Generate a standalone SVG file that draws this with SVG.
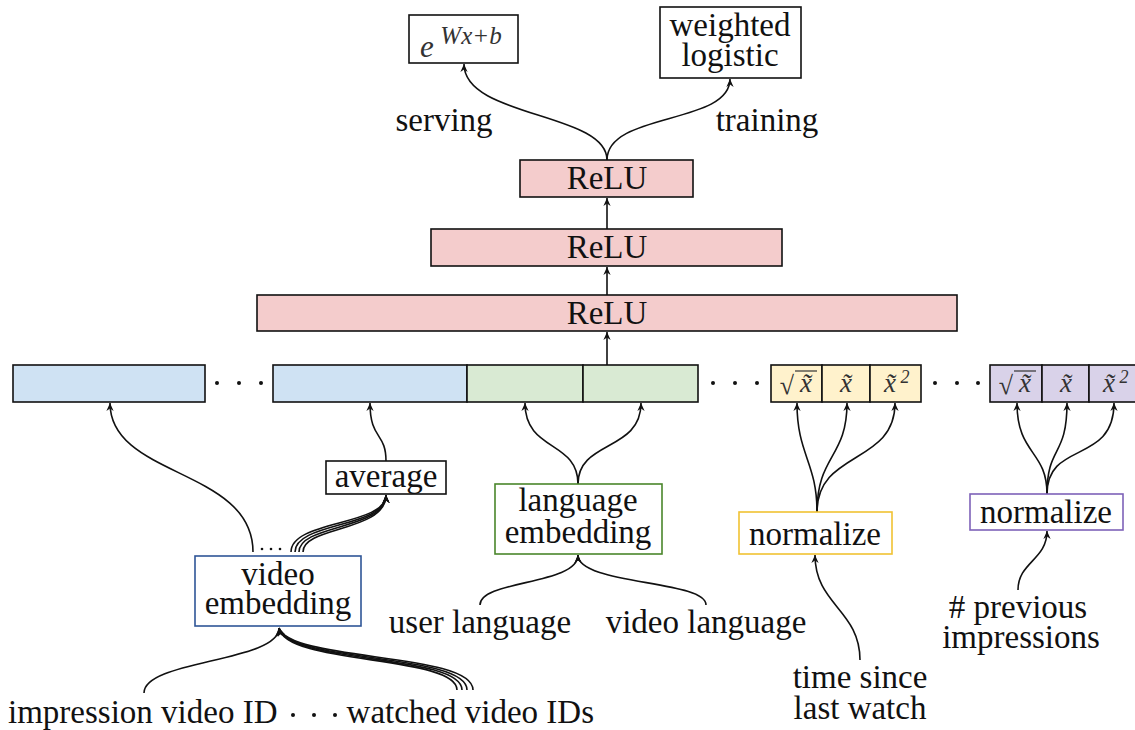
<svg xmlns="http://www.w3.org/2000/svg" width="1135" height="730" viewBox="0 0 1135 730">
<defs>
<style>
.t{font-family:"Liberation Serif","Times New Roman",serif;font-size:33px;fill:#111;text-anchor:middle}
.m{font-family:"Liberation Serif","Times New Roman",serif;font-style:italic;fill:#333;text-anchor:middle}
.box{fill:#fff;stroke:#111;stroke-width:1.6}
.relu{fill:#f4cccc;stroke:#111;stroke-width:1.6}
.blue{fill:#cfe2f3;stroke:#111;stroke-width:1.6}
.green{fill:#d9ead3;stroke:#111;stroke-width:1.6}
.yel{fill:#fff2cc;stroke:#111;stroke-width:1.6}
.pur{fill:#d9d2e9;stroke:#111;stroke-width:1.6}
.c{fill:none;stroke:#111;stroke-width:1.6}
.dot{fill:#111}
</style>
<marker id="ah" viewBox="-9 -5 10 10" refX="0" refY="0" markerWidth="10" markerHeight="10" markerUnits="userSpaceOnUse" orient="auto">
<path d="M0,0 L-8,-3.6 L-5.5,0 L-8,3.6 Z" fill="#111"/>
</marker>
</defs>
<rect width="1135" height="730" fill="#fff"/>

<g id="connectors" class="c" marker-end="url(#ah)">
<path d="M607,160 C607,112 464,118 464,64"/>
<path d="M607,160 C607,112 730,125 730,79"/>
<path d="M607,229 L607,198"/>
<path d="M607,295 L607,267"/>
<path d="M607,365 L607,332"/>
<path d="M253,552 C253,468 110,478 110,403"/>
<path d="M291,552 C291,520 386,526 386,495"/>
<path d="M295,552 C295,522 386,528 386,495"/>
<path d="M299,552 C299,524 386,530 386,495"/>
<path d="M303,552 C303,526 386,532 386,495"/>
<path d="M386,461 C386,432 370,440 370,403"/>
<path d="M578,484 C578,440 525,452 525,403"/>
<path d="M578,484 C578,440 641,452 641,403"/>
<path d="M480,605 C480,580 578,585 578,555"/>
<path d="M706,605 C706,580 578,585 578,555"/>
<path d="M817,512 C817,462 797,455 797,403"/>
<path d="M817,512 C817,455 847,458 847,403"/>
<path d="M817,512 C817,450 895,465 895,403"/>
<path d="M1047,494 C1047,450 1017,455 1017,403"/>
<path d="M1047,494 C1047,445 1067,458 1067,403"/>
<path d="M1047,494 C1047,440 1114,465 1114,403"/>
<path d="M860,660 C860,610 815,605 815,555"/>
<path d="M1018,590 C1018,562 1047,560 1047,531"/>
<path d="M144,693 C144,660 279,662 279,628"/>
<path d="M457,690 C457,655 285,665 279,628"/>
<path d="M462,690 C462,654 287,664 279,628"/>
<path d="M467,690 C467,653 289,663 279,628"/>
<path d="M473,690 C473,652 291,662 279,628"/>
</g>

<g id="exp">
<rect class="box" x="409" y="15" width="109" height="48"/>
<text class="m" x="427" y="57" font-size="31">e<tspan x="471" y="44" font-size="25">Wx+b</tspan></text>
</g>
<g id="weighted">
<rect class="box" x="660" y="7" width="141" height="71"/>
<text class="t" x="730" y="36">weighted<tspan x="730" y="66">logistic</tspan></text>
</g>
<g id="serving"><text class="t" x="444" y="131">serving</text></g>
<g id="training"><text class="t" x="767" y="131">training</text></g>

<g id="relu3">
<rect class="relu" x="520" y="160" width="173" height="37"/>
<text class="t" x="607" y="189">ReLU</text>
</g>
<g id="relu2">
<rect class="relu" x="431" y="229" width="351" height="37"/>
<text class="t" x="607" y="258">ReLU</text>
</g>
<g id="relu1">
<rect class="relu" x="257" y="295" width="700" height="36"/>
<text class="t" x="607" y="324">ReLU</text>
</g>

<g id="features">
<rect class="blue" x="13" y="365" width="192" height="37"/>
<circle class="dot" cx="217" cy="383" r="2"/>
<circle class="dot" cx="239" cy="383" r="2"/>
<circle class="dot" cx="261" cy="383" r="2"/>
<rect class="blue" x="273" y="365" width="194" height="37"/>
<rect class="green" x="467" y="365" width="116" height="37"/>
<rect class="green" x="583" y="365" width="115" height="37"/>
<circle class="dot" cx="713" cy="383" r="2"/>
<circle class="dot" cx="735" cy="383" r="2"/>
<circle class="dot" cx="757" cy="383" r="2"/>
<rect class="yel" x="771" y="365" width="51" height="37"/>
<rect class="yel" x="822" y="365" width="48" height="37"/>
<rect class="yel" x="870" y="365" width="51" height="37"/>
<text class="m" x="787" y="394" font-size="26" font-style="normal">√</text>
<line x1="795" y1="371" x2="817" y2="371" stroke="#333" stroke-width="1.2"/>
<text class="m" x="806" y="392" font-size="27">x̃</text>
<text class="m" x="846" y="392" font-size="27">x̃</text>
<text class="m" x="890" y="392" font-size="27">x̃</text>
<text class="m" x="905" y="383" font-size="18" font-style="normal">2</text>
<circle class="dot" cx="935" cy="383" r="2"/>
<circle class="dot" cx="957" cy="383" r="2"/>
<circle class="dot" cx="978" cy="383" r="2"/>
<rect class="pur" x="990" y="365" width="52" height="37"/>
<rect class="pur" x="1042" y="365" width="47" height="37"/>
<rect class="pur" x="1089" y="365" width="50" height="37"/>
<text class="m" x="1006" y="394" font-size="26" font-style="normal">√</text>
<line x1="1014" y1="371" x2="1036" y2="371" stroke="#333" stroke-width="1.2"/>
<text class="m" x="1025" y="392" font-size="27">x̃</text>
<text class="m" x="1066" y="392" font-size="27">x̃</text>
<text class="m" x="1109" y="392" font-size="27">x̃</text>
<text class="m" x="1124" y="383" font-size="18" font-style="normal">2</text>
</g>

<g id="average">
<rect class="box" x="326" y="461" width="120" height="33"/>
<text class="t" x="386" y="487">average</text>
</g>
<g id="video-embedding">
<rect class="box" x="195" y="556" width="166" height="70" style="stroke:#2f5597"/>
<text class="t" x="278" y="585">video<tspan x="278" y="614">embedding</tspan></text>
<circle class="dot" cx="262" cy="549" r="1.3"/>
<circle class="dot" cx="271" cy="549" r="1.3"/>
<circle class="dot" cx="280" cy="549" r="1.3"/>
</g>
<g id="language-embedding">
<rect class="box" x="495" y="484" width="167" height="70" style="stroke:#4a862b"/>
<text class="t" x="578" y="511">language<tspan x="578" y="543">embedding</tspan></text>
</g>
<g id="normalize-time">
<rect class="box" x="739" y="512" width="153" height="42" style="stroke:#f1c232"/>
<text class="t" x="815" y="545">normalize</text>
</g>
<g id="normalize-impr">
<rect class="box" x="970" y="494" width="153" height="36" style="stroke:#7e62b8"/>
<text class="t" x="1046" y="523">normalize</text>
</g>

<g id="user-language"><text class="t" x="480" y="633">user language</text></g>
<g id="video-language"><text class="t" x="706" y="633">video language</text></g>
<g id="time-since">
<text class="t" x="860" y="688">time since<tspan x="860" y="719">last watch</tspan></text>
</g>
<g id="prev-impressions">
<text class="t" x="1018" y="618"># previous<tspan x="1021" y="648">impressions</tspan></text>
</g>
<g id="impression-id"><text class="t" x="8" y="723" style="text-anchor:start">impression video ID</text></g>
<circle class="dot" cx="293" cy="715" r="2"/>
<circle class="dot" cx="314" cy="715" r="2"/>
<circle class="dot" cx="335" cy="715" r="2"/>
<g id="watched-ids"><text class="t" x="594" y="723" style="text-anchor:end">watched video IDs</text></g>
</svg>
